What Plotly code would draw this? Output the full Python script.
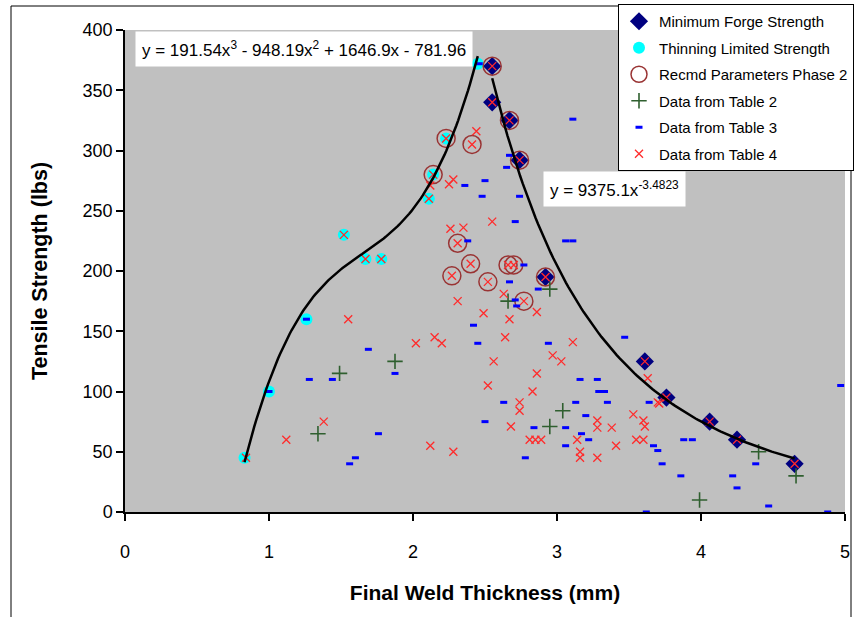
import numpy as np
import plotly.graph_objects as go

# ---- data ----
forge_x = [2.55, 2.55, 2.67, 2.74, 2.92, 3.61, 3.76, 4.06, 4.25, 4.65]
forge_y = [370, 340, 325, 292, 195, 125, 95, 75, 60, 40]

thin_x = [0.83, 1.00, 1.26, 1.52, 1.67, 1.78, 2.11, 2.14, 2.23, 2.45]
thin_y = [45, 100, 160, 230, 210, 210, 260, 280, 310, 372]

recmd_x = [2.14, 2.23, 2.41, 2.55, 2.67, 2.74, 2.31, 2.40, 2.27, 2.52, 2.66, 2.70, 2.77, 2.92]
recmd_y = [280, 310, 305, 370, 325, 292, 223, 206, 196, 191, 205, 205, 175, 195]

t2_x = [1.34, 1.49, 1.875, 2.66, 2.95, 3.04, 2.95, 3.99, 4.40, 4.66]
t2_y = [65, 115, 125, 175, 185, 84, 71, 10, 50, 30]

t3_x = [1.00, 1.26, 1.28, 1.44, 1.56, 1.60, 1.69, 1.76, 1.875, 2.46, 2.36, 2.50, 2.48,
        2.38, 2.42, 2.45, 2.50, 2.67, 2.65, 2.74, 2.71, 3.06, 3.11, 3.11, 2.77, 2.67,
        2.87, 2.71, 2.72, 2.94, 3.47, 3.16, 3.28, 3.29, 3.33, 2.63, 3.13, 3.35, 3.64,
        3.20, 2.84, 3.06, 3.17, 3.22, 3.06, 3.67, 2.78, 3.70, 3.62, 3.88, 3.94, 3.73,
        3.86, 4.22, 4.25, 4.38, 4.47, 4.88, 4.97]
t3_y = [100, 160, 110, 110, 40, 45, 135, 65, 115, 372, 271, 275, 262,
        225, 155, 140, 75, 296, 286, 262, 241, 225, 225, 326, 205, 191,
        185, 176, 171, 140, 145, 110, 110, 100, 100, 91, 91, 91, 91,
        80, 70, 70, 65, 60, 55, 55, 45, 51, 0, 60, 60, 40,
        30, 30, 20, 40, 5, 0, 105]

t4_x = [0.84, 1.52, 1.67, 1.78, 2.11, 2.14, 2.23,
        2.55, 2.55, 2.67, 2.74, 2.92, 3.61, 3.76, 4.06, 4.25, 4.65,
        2.41, 2.31, 2.40, 2.27, 2.52, 2.66, 2.70, 2.77,
        1.12, 1.55, 1.38, 2.44, 2.12, 2.25, 2.28, 2.55, 2.26, 2.35, 2.31, 2.49,
        2.56, 2.02, 2.15, 2.20, 2.52, 2.12, 2.28, 2.63, 2.86, 2.67, 2.64, 3.11,
        2.97, 3.03, 2.86, 3.63, 2.83, 2.74, 2.74, 3.70, 3.53, 3.60, 3.61, 2.68,
        3.28, 3.28, 3.38, 2.81, 2.85, 2.89, 3.14, 3.55, 3.60, 3.41, 3.16, 3.16,
        3.28, 3.71]
t4_y = [45, 230, 210, 210, 260, 280, 310,
        370, 340, 325, 292, 195, 125, 95, 75, 60, 40,
        305, 223, 206, 196, 191, 205, 205, 175,
        60, 160, 75, 316, 271, 272, 276, 241, 235, 236, 175, 165,
        125, 140, 145, 140, 105, 55, 50, 181, 166, 160, 145, 141,
        130, 125, 115, 111, 100, 91, 84, 91, 81, 76, 71, 71,
        76, 70, 70, 60, 60, 60, 60, 60, 60, 55, 50, 45,
        45, 90]

poly_coef = [191.54, -948.19, 1646.9, -781.96]
power_a, power_b = 9375.1, -3.4823

series_names = ["Minimum Forge Strength", "Thinning Limited Strength",
                "Recmd Parameters Phase 2", "Data from Table 2",
                "Data from Table 3", "Data from Table 4"]

# ---- trendlines from displayed equations ----
px_ = np.linspace(min(thin_x), max(thin_x), 120)
py_ = np.polyval(poly_coef, px_)
wx_ = np.linspace(min(forge_x), max(forge_x), 120)
wy_ = power_a * wx_ ** power_b

FONT = "Liberation Sans, Arial, sans-serif"
W, H = 855, 617
fig = go.Figure()

fig.add_trace(go.Scatter(x=forge_x, y=forge_y, mode="markers", name=series_names[0],
                         legendgroup="a",
                         marker=dict(symbol="diamond", size=14, color="#000080",
                                     line=dict(width=0))))
fig.add_trace(go.Scatter(x=thin_x, y=thin_y, mode="markers", name=series_names[1],
                         legendgroup="b",
                         marker=dict(symbol="circle", size=12, color="#00FFFF",
                                     line=dict(width=0))))
fig.add_trace(go.Scatter(x=recmd_x, y=recmd_y, mode="markers", name=series_names[2],
                         legendgroup="c",
                         marker=dict(symbol="circle-open", size=18, color="#993333",
                                     line=dict(width=1.5, color="#993333"))))
fig.add_trace(go.Scatter(x=t2_x, y=t2_y, mode="markers", name=series_names[3],
                         legendgroup="d",
                         marker=dict(symbol="cross-thin", size=11, color="#2F5F2F",
                                     line=dict(width=1.6, color="#2F5F2F"))))
fig.add_trace(go.Scatter(x=t3_x, y=t3_y, mode="markers", name=series_names[4],
                         legendgroup="e",
                         marker=dict(symbol="line-ew", size=5, color="#0000FF",
                                     line=dict(width=3, color="#0000FF"))))
fig.add_trace(go.Scatter(x=t4_x, y=t4_y, mode="markers", name=series_names[5],
                         legendgroup="f",
                         marker=dict(symbol="x-thin", size=8, color="#FF2A2A",
                                     line=dict(width=1.3, color="#FF2A2A"))))
fig.add_trace(go.Scatter(x=px_, y=py_, mode="lines", showlegend=False,
                         line=dict(color="black", width=2.5)))
fig.add_trace(go.Scatter(x=wx_, y=wy_, mode="lines", showlegend=False,
                         line=dict(color="black", width=2.5)))

# geometry helpers (plot area: x 125..845, y 30..512 px)
L, R, T, B = 125, 845, 30, 512
def pxx(p):
    return (p - L) / (R - L)
def pxy(p):
    return (B - p) / (B - T)

fig.update_layout(
    width=W, height=H,
    margin=dict(l=L, r=W - R, t=T, b=H - B, autoexpand=False),
    paper_bgcolor="white", plot_bgcolor="#C0C0C0",
    font=dict(family=FONT, color="black"),
    showlegend=True,
    legend=dict(xref="container", yref="container",
                x=618 / W, y=1 - 4 / H, xanchor="left", yanchor="top",
                bgcolor="white", bordercolor="black", borderwidth=1,
                font=dict(size=15, family=FONT), tracegroupgap=4,
                itemsizing="trace"),
    xaxis=dict(range=[0, 5], dtick=1, tick0=0, showgrid=False, zeroline=False,
               automargin=False,
               showline=True, linecolor="black", linewidth=1.5,
               ticks="outside", ticklen=7, tickcolor="black", tickwidth=1.5,
               tickfont=dict(size=18), ticklabelstandoff=16,
               title=dict(text="<b>Final Weld Thickness (mm)</b>",
                          font=dict(size=21), standoff=24)),
    yaxis=dict(range=[0, 400], dtick=50, tick0=0, showgrid=False, zeroline=False,
               automargin=False,
               showline=True, linecolor="black", linewidth=1.5,
               ticks="outside", ticklen=7, tickcolor="black", tickwidth=1.5,
               tickfont=dict(size=18),
               title=dict(text="<b>Tensile Strength (lbs)</b>",
                          font=dict(size=21.5), standoff=29)),
    shapes=[dict(type="rect", xref="paper", yref="paper",
                 x0=pxx(11), x1=pxx(851), y0=pxy(660), y1=pxy(6),
                 line=dict(color="black", width=1), layer="below")],
    annotations=[
        dict(xref="paper", yref="paper", x=pxx(135), y=pxy(49),
             xanchor="left", yanchor="middle", showarrow=False,
             text="y = 191.54x<sup>3</sup> - 948.19x<sup>2</sup> + 1646.9x - 781.96",
             font=dict(size=17, family=FONT), bgcolor="white", borderpad=6),
        dict(xref="paper", yref="paper", x=pxx(543), y=pxy(189),
             xanchor="left", yanchor="middle", showarrow=False,
             text="y = 9375.1x<sup>-3.4823</sup>",
             font=dict(size=17, family=FONT), bgcolor="white", borderpad=6),
    ],
)

fig.write_html("out.html", config={"displayModeBar": False},
               post_script="document.body.style.margin='0';")
